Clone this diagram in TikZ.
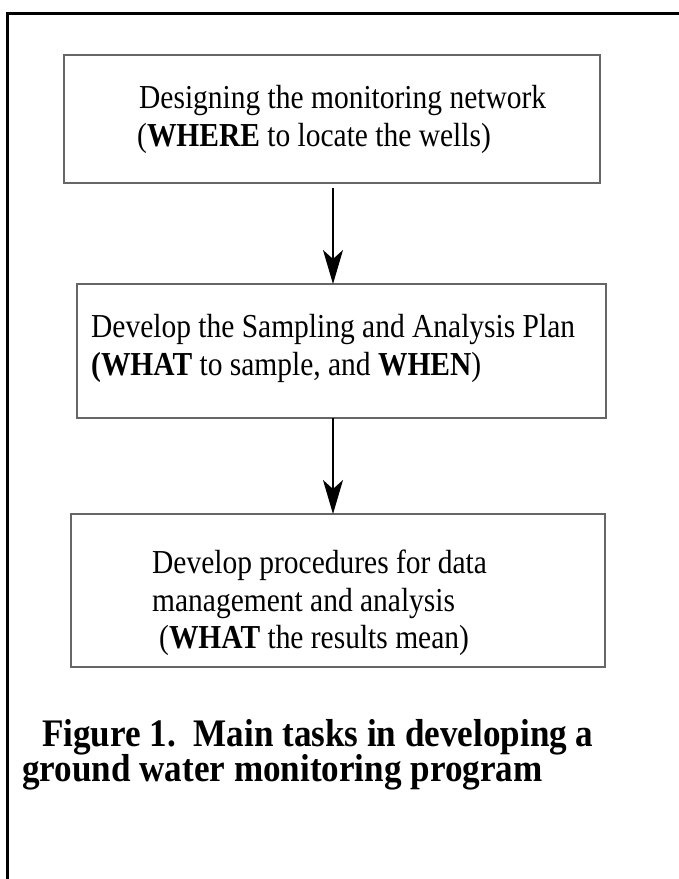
\documentclass[tikz,border=0pt]{standalone}
\usepackage{fontspec}
\setmainfont{Liberation Serif}[FakeStretch=0.88]
\newfontfamily\capfont{Liberation Serif}[FakeStretch=0.9]
\usetikzlibrary{arrows.meta}
\begin{document}
\begin{tikzpicture}[x=1pt,y=-1pt,
  box/.style={draw=black!60, line width=1.8pt, rectangle, inner sep=0pt},
  txt/.style={anchor=base west, inner sep=0pt, font=\fontsize{33.5}{38}\selectfont},
  captxt/.style={anchor=base west, inner sep=0pt, font=\capfont\fontsize{39}{35}\selectfont\bfseries},
  arr/.style={line width=1.3pt, -{Stealth[length=34pt,width=20pt,inset=9pt]}}]
\useasboundingbox (0,0) rectangle (679,879);
\coordinate (fbl) at (7,879);
\coordinate (ftl) at (7,13);
\coordinate (ftr) at (679,13);
\draw[line width=3pt] (fbl) -- (ftl) -- (ftr);
\node[box, minimum width=536pt, minimum height=128pt] (b1) at (332,119) {};
\node[box, minimum width=529pt, minimum height=134pt] (b2) at (341.5,351) {};
\node[box, minimum width=534pt, minimum height=153pt] (b3) at (338,590.5) {};
\coordinate (a1s) at (333,188);
\coordinate (a1e) at (333,284);
\coordinate (a2s) at (333,418);
\coordinate (a2e) at (333,514);
\draw[arr] (a1s) -- (a1e);
\draw[arr] (a2s) -- (a2e);
\node[txt] (t1a) at (139,108) {Designing the monitoring network};
\node[txt] (t1b) at (137,146) {(\textbf{WHERE} to locate the wells)};
\node[txt] (t2a) at (91,337) {Develop the Sampling and Analysis Plan};
\node[txt] (t2b) at (91,375) {\textbf{(WHAT} to sample, and \textbf{WHEN})};
\node[txt] (t3a) at (152,573) {Develop procedures for data};
\node[txt] (t3b) at (152,611) {management and analysis};
\node[txt] (t3c) at (159,648) {(\textbf{WHAT} the results mean)};
\node[captxt] (c1) at (42,746) {Figure 1.\ \ Main tasks in developing a};
\node[captxt] (c2) at (22,781) {ground water monitoring program};
\end{tikzpicture}
\end{document}
